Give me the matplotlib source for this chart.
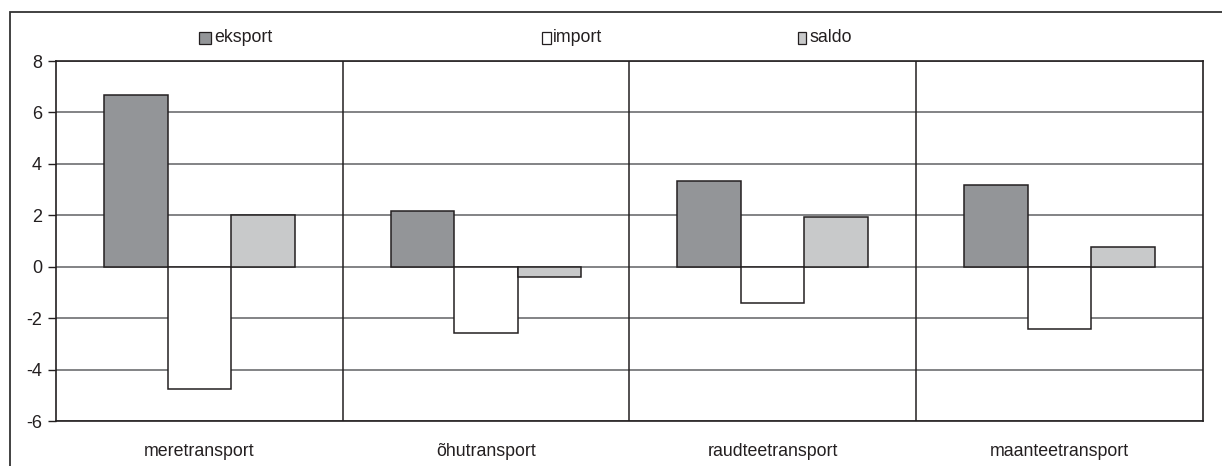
import numpy as np
import matplotlib
matplotlib.use("Agg")
import matplotlib.pyplot as plt
from matplotlib.patches import Rectangle

# andmed
categories = ["meretransport", "õhutransport", "raudteetransport", "maanteetransport"]
series_names = ["eksport", "import", "saldo"]
eksport = [6.68, 2.17, 3.33, 3.17]
import_ = [-4.76, -2.59, -1.41, -2.42]
saldo = [2.01, -0.41, 1.92, 0.77]
yticks = [-6, -4, -2, 0, 2, 4, 6, 8]

colors = ["#939598", "#ffffff", "#c8c9ca"]
edge = "#231f20"

plt.rcParams["font.family"] = ["Liberation Sans", "DejaVu Sans"]

fig = plt.figure(figsize=(12.22, 4.66), dpi=100)
W, H = 1222, 466
ax = fig.add_axes([56 / W, 1 - 421 / H, (1202.7 - 56) / W, (421 - 61) / H])

x = np.arange(len(categories))
bw = 0.2216
for k, (vals, col) in enumerate(zip([eksport, import_, saldo], colors)):
    ax.bar(x + (k - 1) * bw, vals, width=bw, color=col, edgecolor=edge,
           linewidth=1.1, zorder=3)

ax.set_xlim(-0.5, len(categories) - 0.5)
ax.set_ylim(yticks[0], yticks[-1])
ax.set_yticks(yticks)
ax.set_yticklabels([str(t) for t in yticks], fontsize=13, color="#231f20")
ax.yaxis.grid(True, color="#6d6e71", linewidth=1.2, zorder=0)
ax.set_axisbelow(True)
for b in x[:-1] + 0.5:
    ax.axvline(b, color="#231f20", linewidth=1.1, zorder=1)

ax.set_xticks(x)
ax.set_xticklabels(categories, fontsize=12.8, color="#231f20")
ax.tick_params(axis="x", length=0, pad=16)
ax.tick_params(axis="y", length=6, width=1.0, color="#231f20", pad=4)
for s in ax.spines.values():
    s.set_color("#231f20")
    s.set_linewidth(1.2)

# legenda käsitsi, nagu originaalis
leg_sq = [(198.7, 12), (542, 9), (798, 8)]
leg_tx = [214, 553, 810]
for (sx, sw), tx, name, col in zip(leg_sq, leg_tx, series_names, colors):
    fig.patches.append(Rectangle((sx / W, 1 - 43.5 / H), sw / W, 12 / H,
                                 transform=fig.transFigure, facecolor=col,
                                 edgecolor=edge, linewidth=0.9))
    fig.text(tx / W, 1 - 37.5 / H, name, fontsize=12.8, va="center",
             ha="left", color="#231f20")

# välimine raam (paremalt ja alt ära lõigatud)
fig.patches.append(Rectangle((10 / W, -0.1), 1.2, 1 - 12.3 / H + 0.1,
                             transform=fig.transFigure, facecolor="none",
                             edgecolor="#333333", linewidth=1.3))

fig.savefig("out.png", dpi=100)
